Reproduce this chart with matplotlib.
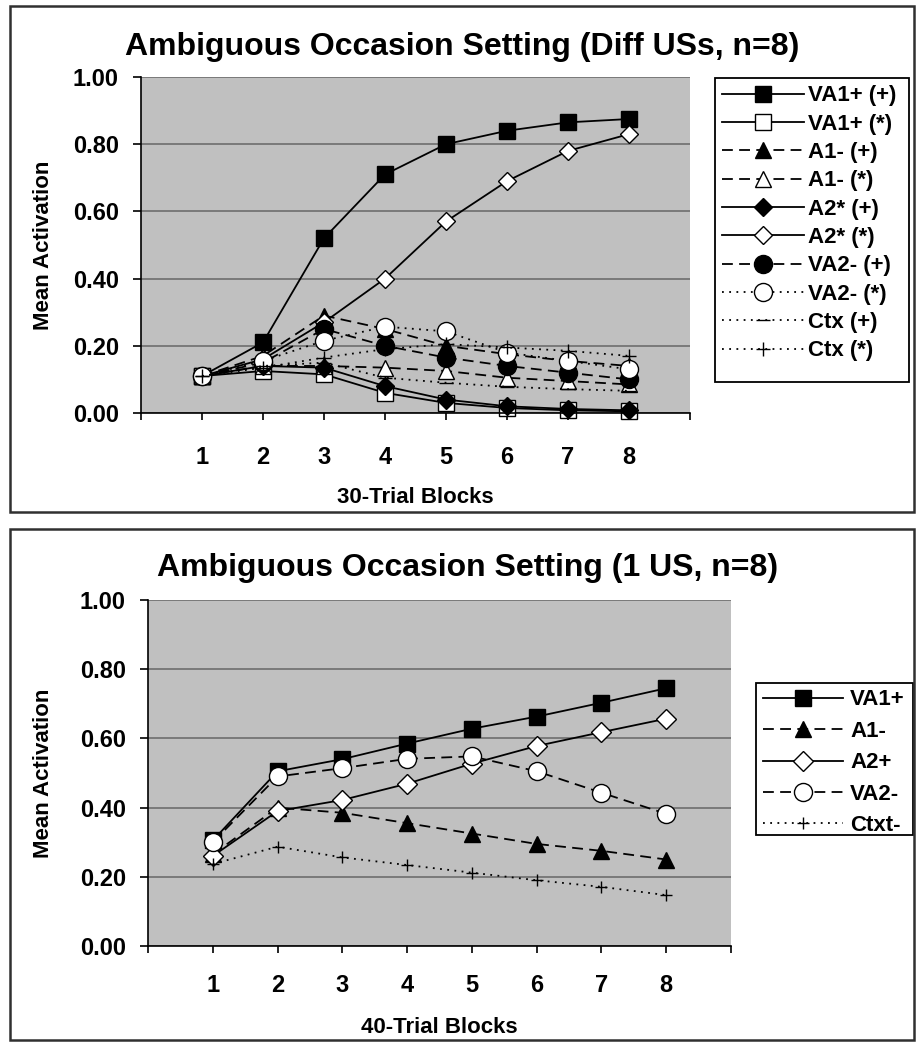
import matplotlib
matplotlib.use("Agg")
import matplotlib.pyplot as plt
from matplotlib.patches import Rectangle

plt.rcParams['font.family'] = ['Liberation Sans', 'DejaVu Sans']
plt.rcParams['font.weight'] = 'bold'

# ---------------- data ----------------
blocks = [1, 2, 3, 4, 5, 6, 7, 8]
tick_labels = ['', '1', '2', '3', '4', '5', '6', '7', '8', '']

# Top panel (Diff USs)
va1_plus_p = [0.11, 0.21, 0.52, 0.71, 0.80, 0.84, 0.865, 0.875]
va1_plus_s = [0.11, 0.125, 0.115, 0.06, 0.03, 0.015, 0.008, 0.005]
a1_minus_p = [0.11, 0.17, 0.29, 0.25, 0.20, 0.175, 0.155, 0.14]
a1_minus_s = [0.11, 0.14, 0.14, 0.135, 0.125, 0.105, 0.095, 0.085]
a2_star_p = [0.11, 0.14, 0.135, 0.08, 0.04, 0.02, 0.012, 0.008]
a2_star_s = [0.11, 0.16, 0.27, 0.40, 0.57, 0.69, 0.78, 0.83]
va2_minus_p = [0.11, 0.15, 0.25, 0.20, 0.165, 0.14, 0.12, 0.10]
va2_minus_s = [0.11, 0.155, 0.215, 0.257, 0.243, 0.18, 0.155, 0.13]
ctx_p = [0.11, 0.14, 0.15, 0.105, 0.09, 0.078, 0.071, 0.066]
ctx_s = [0.11, 0.135, 0.165, 0.19, 0.205, 0.195, 0.185, 0.17]

top_labels = ['VA1+ (+)', 'VA1+ (*)', 'A1- (+)', 'A1- (*)', 'A2* (+)',
              'A2* (*)', 'VA2- (+)', 'VA2- (*)', 'Ctx (+)', 'Ctx (*)']

# Bottom panel (1 US)
va1_plus = [0.305, 0.505, 0.54, 0.585, 0.628, 0.663, 0.703, 0.745]
a1_minus = [0.265, 0.40, 0.385, 0.355, 0.325, 0.295, 0.275, 0.25]
a2_plus = [0.26, 0.39, 0.422, 0.469, 0.527, 0.578, 0.618, 0.657]
va2_minus = [0.30, 0.49, 0.514, 0.541, 0.548, 0.505, 0.443, 0.382]
ctxt_minus = [0.237, 0.287, 0.256, 0.234, 0.212, 0.19, 0.171, 0.147]

bottom_labels = ['VA1+', 'A1-', 'A2+', 'VA2-', 'Ctxt-']

# ---------------- styles ----------------
W, H = 918, 1042
fig = plt.figure(figsize=(W / 100, H / 100), dpi=100)

SOLID = '-'
DASH = (0, (6, 3.5))
DOT = (0, (1, 3))
LW = 1.3
TICK_FS = 17
LABEL_FS = 16
TITLE_FS = 23
LEG_FS = 16

def px_axes(l, t, r, b):
    return fig.add_axes([l / W, 1 - b / H, (r - l) / W, (b - t) / H])

def style_axes(ax, xpad):
    ax.set_facecolor('#c0c0c0')
    ax.set_xlim(0, 9)
    ax.set_ylim(0, 1)
    ax.set_xticks(range(10))
    ax.set_xticklabels(tick_labels)
    ax.set_yticks([0, 0.2, 0.4, 0.6, 0.8, 1.0])
    ax.set_yticklabels(['%.2f' % v for v in [0, 0.2, 0.4, 0.6, 0.8, 1.0]])
    ax.yaxis.grid(True, color='#7a7a7a', lw=1.4)
    ax.set_axisbelow(True)
    for s in ['top', 'right']:
        ax.spines[s].set_visible(False)
    for s in ['left', 'bottom']:
        ax.spines[s].set_color('black')
        ax.spines[s].set_linewidth(1.2)
    ax.tick_params(axis='x', length=5, width=1.2, pad=xpad, labelsize=TICK_FS)
    ax.tick_params(axis='y', length=6, width=1.2, pad=10, labelsize=TICK_FS)
    for lab in ax.get_xticklabels() + ax.get_yticklabels():
        lab.set_fontweight('bold')

def series(ax, y, ls, marker, fc, ms):
    return ax.plot(blocks, y, linestyle=ls, color='black', lw=LW,
                   marker=marker, markersize=ms, markerfacecolor=fc,
                   markeredgecolor='black', markeredgewidth=1.0,
                   clip_on=False)[0]

# ---------------- top panel ----------------
ax1 = px_axes(141, 77, 690, 413)
style_axes(ax1, 19)
top_series = [
    (va1_plus_p, SOLID, 's', 'black', 12),
    (va1_plus_s, SOLID, 's', 'white', 12),
    (a1_minus_p, DASH, '^', 'black', 12),
    (a1_minus_s, DASH, '^', 'white', 12),
    (a2_star_p, SOLID, 'D', 'black', 9),
    (a2_star_s, SOLID, 'D', 'white', 9),
    (va2_minus_p, DASH, 'o', 'black', 13),
    (va2_minus_s, DOT, 'o', 'white', 13),
    (ctx_p, DOT, '_', 'black', 10),
    (ctx_s, DOT, '+', 'black', 10),
]
h1 = []
for y, ls, mk, fc, ms in top_series:
    h1.append(series(ax1, y, ls, mk, fc, ms))
ax1.set_ylabel('Mean Activation', fontsize=LABEL_FS, fontweight='bold')
ax1.yaxis.set_label_coords((54 - 141) / 549, 0.5)
ax1.set_xlabel('30-Trial Blocks', fontsize=LABEL_FS, fontweight='bold')
ax1.xaxis.set_label_coords(0.5, (413 - 487) / 336)

fig.text(462 / W, 1 - 47 / H, 'Ambiguous Occasion Setting (Diff USs, n=8)',
         ha='center', va='center', fontsize=TITLE_FS, fontweight='bold')

fig.legend(h1, top_labels, loc='upper left',
           bbox_to_anchor=(718 / W, 1 - 81 / H), frameon=False,
           handlelength=3.65, handletextpad=0.2,
           labelspacing=0.33, borderpad=0.2, borderaxespad=0,
           prop={'weight': 'bold', 'size': LEG_FS})
fig.patches.append(Rectangle((715 / W, 1 - 382 / H), (909 - 715) / W, (382 - 78) / H,
                             transform=fig.transFigure, fill=False,
                             edgecolor='black', lw=1.3))

# ---------------- bottom panel ----------------
ax2 = px_axes(148, 600, 731, 946)
style_axes(ax2, 15)
bottom_series = [
    (va1_plus, SOLID, 's', 'black', 12),
    (a1_minus, DASH, '^', 'black', 12),
    (a2_plus, SOLID, 'D', 'white', 10),
    (va2_minus, DASH, 'o', 'white', 13),
    (ctxt_minus, DOT, '+', 'black', 8),
]
h2 = []
for y, ls, mk, fc, ms in bottom_series:
    h2.append(series(ax2, y, ls, mk, fc, ms))
ax2.set_ylabel('Mean Activation', fontsize=LABEL_FS, fontweight='bold')
ax2.yaxis.set_label_coords((54 - 148) / 583, 0.5)
ax2.set_xlabel('40-Trial Blocks', fontsize=LABEL_FS, fontweight='bold')
ax2.xaxis.set_label_coords(0.5, (946 - 1017) / 346)

fig.text(468 / W, 1 - 568 / H, 'Ambiguous Occasion Setting (1 US, n=8)',
         ha='center', va='center', fontsize=TITLE_FS, fontweight='bold')

fig.legend(h2, bottom_labels, loc='upper left',
           bbox_to_anchor=(759 / W, 1 - 685 / H), frameon=False,
           handlelength=3.6, handletextpad=0.3,
           labelspacing=0.47, borderpad=0.2, borderaxespad=0,
           prop={'weight': 'bold', 'size': LEG_FS})
fig.patches.append(Rectangle((756 / W, 1 - 835 / H), (913 - 756) / W, (835 - 683) / H,
                             transform=fig.transFigure, fill=False,
                             edgecolor='black', lw=1.3))

# ---------------- outer frames ----------------
fig.patches.append(Rectangle((10 / W, 1 - 512 / H), (914 - 10) / W, (512 - 6) / H,
                             transform=fig.transFigure, fill=False,
                             edgecolor='#303030', lw=1.8))
fig.patches.append(Rectangle((10 / W, 1 - 1040 / H), (914 - 10) / W, (1040 - 529) / H,
                             transform=fig.transFigure, fill=False,
                             edgecolor='#303030', lw=1.8))

fig.savefig('out.png', dpi=100, facecolor='white')
